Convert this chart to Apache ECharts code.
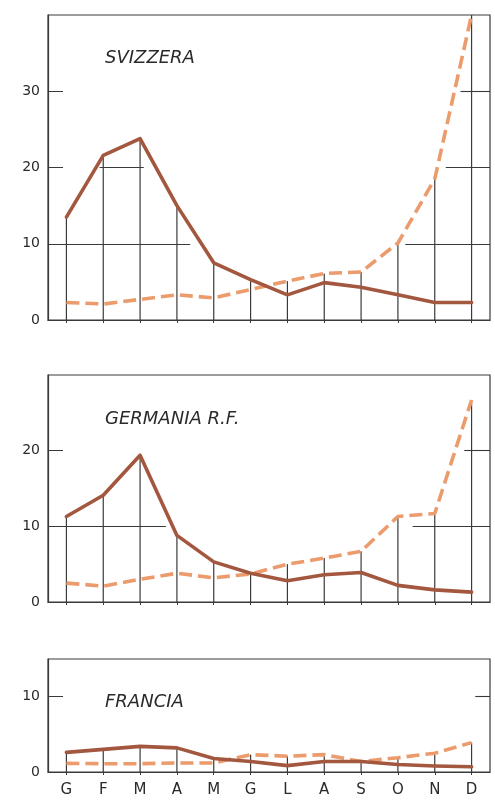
<!DOCTYPE html>
<html>
<head>
<meta charset="utf-8">
<script src="https://cdn.jsdelivr.net/npm/echarts@6/dist/echarts.min.js"></script>
<style>
html,body{margin:0;padding:0;background:#fff;}
#chart{width:495px;height:801px;}
</style>
</head>
<body>
<div id="chart"></div>
<script>
// ---- Data ----
var months = ['G','F','M','A','M','G','L','A','S','O','N','D'];
var panelTitles = ['SVIZZERA', 'GERMANIA R.F.', 'FRANCIA'];
var yMax = [40, 30, 15];

var svizzeraSolid  = [13.5, 21.6, 23.8, 15.0, 7.5, 5.3, 3.3, 4.9, 4.3, 3.3, 2.3, 2.3];
var svizzeraDashed = [2.3, 2.1, 2.7, 3.3, 2.9, 4.0, 5.1, 6.1, 6.3, 10.1, 18.5, 40];

var germaniaSolid  = [11.3, 14.1, 19.4, 8.8, 5.3, 3.8, 2.8, 3.6, 3.9, 2.2, 1.6, 1.3];
var germaniaDashed = [2.5, 2.1, 3.0, 3.8, 3.2, 3.7, 5.0, 5.8, 6.7, 11.3, 11.7, 26.7];

var franciaSolid   = [2.6, 3.0, 3.4, 3.2, 1.8, 1.4, 0.85, 1.4, 1.4, 1.0, 0.8, 0.7];
var franciaDashed  = [1.15, 1.1, 1.1, 1.2, 1.2, 2.3, 2.1, 2.3, 1.4, 1.9, 2.5, 3.9];

// decorative partial grid-line segments: [yValue, fromIndex, toIndex]
var gridSegments = [
  [[10, -0.5, 3.36], [10, 9.2, 11.5], [20, 0.9, 2.1], [20, 10.3, 11.5], [30, 10.7, 11.5]],
  [[10, -0.5, 2.7], [10, 9.4, 11.5], [20, 10.8, 11.5]],
  [[10, 11.1, 11.5]]
];

var solidData = [svizzeraSolid, germaniaSolid, franciaSolid];
var dashedData = [svizzeraDashed, germaniaDashed, franciaDashed];

// ---- Layout / style ----
var grids = [
  {left: 48, right: 5, top: 15, height: 305},
  {left: 48, right: 5, top: 375, height: 227},
  {left: 48, right: 5, top: 659, height: 113}
];
var titleTops = [44, 405, 688];
var solidColor = '#a3573f';
var dashColor = '#ec9b6c';
var inkColor = '#2a2a2a';

var option = {
  backgroundColor: '#ffffff',
  animation: false,
  title: panelTitles.map(function (t, i) {
    return {
      text: t, left: 100, top: titleTops[i],
      textStyle: {fontFamily: 'DejaVu Sans', fontStyle: 'italic', fontWeight: 'normal', fontSize: 18, color: inkColor}
    };
  }),
  grid: grids.map(function (g) {
    return Object.assign({show: true, borderColor: '#3a3a3a', borderWidth: 1.2, backgroundColor: 'transparent'}, g);
  }),
  xAxis: [],
  yAxis: [],
  series: []
};

for (var i = 0; i < 3; i++) {
  // category axis
  option.xAxis.push({
    type: 'category', gridIndex: i, data: months, boundaryGap: true,
    axisLine: {show: true, onZero: false, lineStyle: {color: '#3a3a3a', width: 1.2}},
    axisTick: {show: true, alignWithLabel: true, length: 3, lineStyle: {color: '#3a3a3a'}},
    axisLabel: {show: i === 2, margin: 11, fontFamily: 'DejaVu Sans', fontSize: 15, color: inkColor},
    splitLine: {show: false}
  });
  // hidden value x-axis for decorative grid segments
  option.xAxis.push({
    type: 'value', gridIndex: i, min: -0.5, max: 11.5, show: false,
    axisLine: {onZero: false}
  });
  option.yAxis.push({
    type: 'value', gridIndex: i, min: 0, max: yMax[i], interval: 10,
    axisLine: {show: true, onZero: false, lineStyle: {color: '#3a3a3a', width: 1.2}},
    axisTick: {show: true, inside: true, length: 15, lineStyle: {color: '#3a3a3a'}},
    axisLabel: {showMaxLabel: false, margin: 8, fontFamily: 'DejaVu Sans', fontSize: 14, color: inkColor},
    splitLine: {show: false}
  });

  var catX = i * 2, valX = i * 2 + 1;
  var drops = solidData[i].map(function (v, k) { return Math.max(v, dashedData[i][k]); });

  option.series.push({
    type: 'bar', xAxisIndex: catX, yAxisIndex: i, data: drops,
    barWidth: 1.2, itemStyle: {color: '#3a3a3a'}, silent: true, z: 1
  });
  option.series.push({
    type: 'line', xAxisIndex: valX, yAxisIndex: i, data: [], silent: true, z: 1,
    markLine: {
      silent: true, symbol: ['none', 'none'], label: {show: false},
      lineStyle: {color: '#3a3a3a', width: 1.1, type: 'solid'},
      emphasis: {disabled: true},
      data: gridSegments[i].map(function (s) {
        return [{coord: [s[1], s[0]]}, {coord: [s[2], s[0]]}];
      })
    }
  });
  option.series.push({
    type: 'line', xAxisIndex: catX, yAxisIndex: i, data: dashedData[i],
    symbol: 'none', z: 3,
    lineStyle: {color: dashColor, width: 3.6, type: [13, 6], cap: 'butt'}
  });
  option.series.push({
    type: 'line', xAxisIndex: catX, yAxisIndex: i, data: solidData[i],
    symbol: 'none', z: 4,
    lineStyle: {color: solidColor, width: 3.6, join: 'round', cap: 'round'}
  });
}

var chart = echarts.init(document.getElementById('chart'), null, {renderer: 'canvas'});
chart.setOption(option);
</script>
</body>
</html>
